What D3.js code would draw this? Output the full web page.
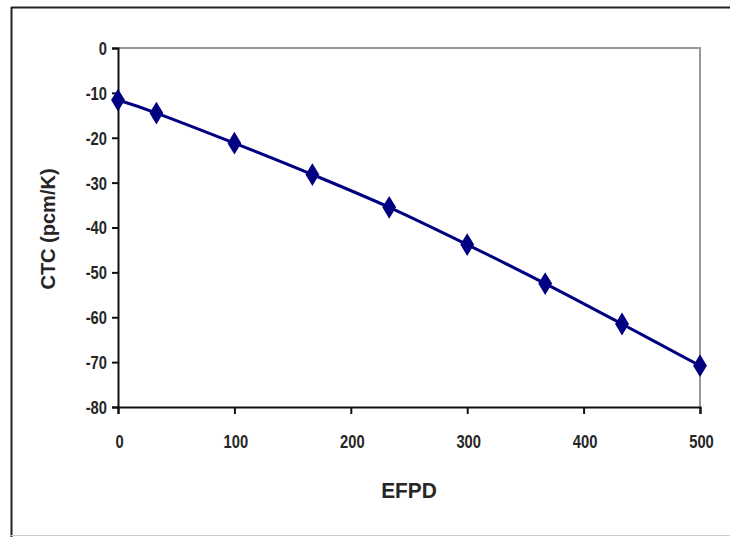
<!DOCTYPE html>
<html><head><meta charset="utf-8">
<script src="https://cdn.jsdelivr.net/npm/d3@7"></script>
<style>body{margin:0;background:#fff}svg{display:block}</style>
</head><body>
<svg id="c" width="730" height="537"></svg>
<script>
const efpd = [0, 33, 100, 167, 233, 300, 367, 433, 500];
const ctc = [-11.6, -14.5, -21.2, -28.2, -35.5, -43.8, -52.5, -61.5, -70.8];
const xTicks = [0, 100, 200, 300, 400, 500];
const yTicks = [0, -10, -20, -30, -40, -50, -60, -70, -80];
const xTitle = "EFPD";
const yTitle = "CTC (pcm/K)";

const svg = d3.select("#c");
const L = 118, R = 700, T = 48, B = 407;
const x = d3.scaleLinear().domain([0, 500]).range([L, R]);
const y = d3.scaleLinear().domain([0, -80]).range([T, B]);
const font = "'Liberation Sans', Arial, sans-serif";
const txt = "#262626";

// outer frame
svg.append("line").attr("x1", 11).attr("x2", 730).attr("y1", 7.5).attr("y2", 7.5).attr("stroke", "#222").attr("stroke-width", 2);
svg.append("line").attr("x1", 11.5).attr("x2", 11.5).attr("y1", 7).attr("y2", 537).attr("stroke", "#222").attr("stroke-width", 2);
svg.append("line").attr("x1", 11).attr("x2", 730).attr("y1", 535.5).attr("y2", 535.5).attr("stroke", "#ccc").attr("stroke-width", 1);

// plot area border (gray)
svg.append("path").attr("d", `M${L},${T}H${R}V${B}`).attr("fill", "none").attr("stroke", "#999").attr("stroke-width", 2);

// axes
const yAxis = d3.axisLeft(y).tickValues(yTicks).tickSize(6).tickPadding(0).tickFormat(d => String(d));
const gy = svg.append("g").attr("transform", `translate(${L},0)`).call(yAxis);
const xAxis = d3.axisBottom(x).tickValues(xTicks).tickSize(7).tickPadding(0).tickFormat(d => String(d));
const gx = svg.append("g").attr("transform", `translate(0,${B})`).call(xAxis);
[gx, gy].forEach(g => {
  g.select(".domain").attr("stroke", "#111").attr("stroke-width", 2);
  g.selectAll(".tick line").attr("stroke", "#111").attr("stroke-width", 2);
  g.selectAll(".tick text").attr("font-family", font).attr("font-size", 18).attr("font-weight", "bold").attr("fill", txt);
});
gy.selectAll(".tick text").attr("x", 0).attr("dy", "0.36em").attr("transform", "translate(-11,0) scale(0.82,1)");
gx.selectAll(".tick text").attr("y", 0).attr("dy", "0.36em").attr("transform", "translate(1,35) scale(0.82,1)");

// titles
svg.append("text").attr("transform", "translate(409,490) scale(0.95,1)").attr("dy", "0.36em").attr("text-anchor", "middle")
  .attr("font-family", font).attr("font-size", 22).attr("font-weight", "bold").attr("fill", txt).text(xTitle);
svg.append("text").attr("transform", "translate(48,229) rotate(-90)").attr("dy", "0.36em").attr("text-anchor", "middle")
  .attr("font-family", font).attr("font-size", 20).attr("font-weight", "bold").attr("fill", txt).text(yTitle);

// series
const pts = efpd.map((d, i) => [d, ctc[i]]);
const line = d3.line().x(d => x(d[0])).y(d => y(d[1])).curve(d3.curveCatmullRom.alpha(0));
svg.append("path").datum(pts).attr("d", line).attr("fill", "none").attr("stroke", "#000080").attr("stroke-width", 3);
const sym = d3.symbol().type(d3.symbolDiamond).size(150);
svg.selectAll(".m").data(pts).join("path").attr("class", "m")
  .attr("transform", d => `translate(${x(d[0])},${y(d[1])}) scale(1.05,1)`)
  .attr("d", sym).attr("fill", "#000080");
</script>
</body></html>
